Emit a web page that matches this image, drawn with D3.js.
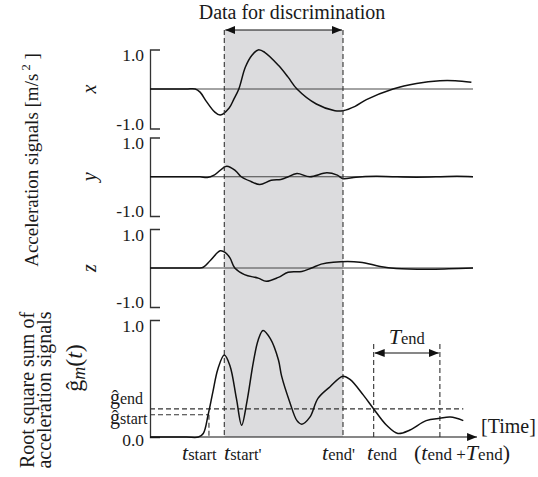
<!DOCTYPE html>
<html>
<head>
<meta charset="utf-8">
<script src="https://cdn.jsdelivr.net/npm/d3@7"></script>
<style>
  body { margin: 0; background: #fff; }
  text { font-family: "Liberation Serif", "Times New Roman", Times, serif; fill: #1a1a1a; }
</style>
</head>
<body>
<div id="chart"></div>
<script>
// time in seconds (arbitrary)
const accX = [[0,0],[0.45,0],[0.56,0],[0.62,-0.08],[0.70,-0.32],[0.80,-0.58],[0.87,-0.66],[0.98,-0.48],[1.04,-0.25],[1.10,0],[1.18,0.55],[1.26,0.85],[1.34,0.99],[1.42,0.93],[1.59,0.60],[1.71,0.30],[1.82,0],[2.06,-0.38],[2.29,-0.55],[2.39,-0.55],[2.54,-0.44],[2.68,-0.27],[3.01,0],[3.30,0.14],[3.59,0.21],[3.78,0.21],[3.98,0.17]];
const accY = [[0,0],[0.45,0],[0.62,0],[0.71,-0.02],[0.80,0.05],[0.95,0.27],[1.06,0.15],[1.13,0],[1.25,-0.12],[1.36,-0.20],[1.50,-0.09],[1.62,-0.07],[1.69,-0.02],[1.82,0.08],[1.98,0],[2.19,0.10],[2.32,0.04],[2.39,-0.05],[2.55,-0.01],[2.80,0.01],[3.00,0],[3.30,-0.01],[3.60,0],[3.80,0.01],[4.00,0]];
const accZ = [[0,0],[0.45,0],[0.60,0],[0.66,0.02],[0.75,0.20],[0.87,0.44],[0.93,0.40],[0.99,0.26],[1.05,0],[1.17,-0.17],[1.34,-0.26],[1.44,-0.34],[1.59,-0.24],[1.71,-0.11],[1.88,-0.09],[2.00,0],[2.12,0.10],[2.27,0.15],[2.60,0.15],[2.85,0.04],[3.05,-0.01],[3.43,-0.03],[3.70,-0.02],[4.00,0]];
const gm = [[0,0],[0.45,0],[0.60,0],[0.66,0.03],[0.72,0.19],[0.78,0.39],[0.84,0.58],[0.92,0.70],[0.99,0.61],[1.07,0.33],[1.135,0.10],[1.20,0.30],[1.28,0.64],[1.34,0.83],[1.40,0.91],[1.49,0.84],[1.59,0.66],[1.63,0.52],[1.73,0.30],[1.82,0.14],[1.88,0.11],[1.98,0.17],[2.08,0.33],[2.23,0.43],[2.39,0.52],[2.48,0.49],[2.64,0.36],[2.77,0.24],[2.93,0.10],[3.07,0.03],[3.22,0.06],[3.42,0.14],[3.59,0.16],[3.72,0.17],[3.88,0.14]];

const tStart = 0.73, tStartP = 0.92, tEndP = 2.39, tEnd = 2.77, tEndT = 3.59;
const gStart = 0.19, gEnd = 0.24;
const accTicks = ["1.0", "-1.0"];
const gTicks = ["1.0", "0.0"];

const W = 538, H = 477;
const svg = d3.select("#chart").append("svg").attr("width", W).attr("height", H);

const defs = svg.append("defs");
defs.append("marker").attr("id", "arr").attr("viewBox", "0 0 10 8")
    .attr("refX", 10).attr("refY", 4).attr("markerWidth", 10).attr("markerHeight", 8)
    .attr("markerUnits", "userSpaceOnUse").attr("orient", "auto-start-reverse")
    .append("path").attr("d", "M0,0 L10,4 L0,8 Z").attr("fill", "#111");

const time = d3.scaleLinear().domain([0, 4]).range([150, 473]);
const top0 = 30, base = 437;

// shaded discrimination window
svg.append("rect")
    .attr("x", time(tStartP)).attr("y", top0)
    .attr("width", time(tEndP) - time(tStartP)).attr("height", base - top0)
    .attr("fill", "#dcdcde");

const panels = [
    { name: "x", data: accX, y: d3.scaleLinear().domain([-1, 1]).range([128.5, 49.5]) },
    { name: "y", data: accY, y: d3.scaleLinear().domain([-1, 1]).range([216, 137.5]) },
    { name: "z", data: accZ, y: d3.scaleLinear().domain([-1, 1]).range([307, 229]) }
];
const gy = d3.scaleLinear().domain([0, 1]).range([base, 320]);

const line = (ys) => d3.line().x(d => time(d[0])).y(d => ys(d[1])).curve(d3.curveCatmullRom.alpha(0.5));

panels.forEach(p => {
    const ax = svg.append("g").attr("transform", `translate(${time(0)},0)`)
        .call(d3.axisRight(p.y).tickValues([]).tickSizeOuter(10));
    ax.select(".domain").attr("stroke", "#333").attr("stroke-width", 1.3);

    svg.append("line")
        .attr("x1", time(0)).attr("x2", time(4))
        .attr("y1", p.y(0)).attr("y2", p.y(0))
        .attr("stroke", "#333").attr("stroke-width", 0.9);

    svg.append("path").datum(p.data)
        .attr("d", line(p.y))
        .attr("fill", "none").attr("stroke", "#111").attr("stroke-width", 1.5);

    svg.append("text").attr("x", 144).attr("y", p.y(1) + 11.5)
        .attr("text-anchor", "end").attr("font-size", 17.5).text(accTicks[0]);
    svg.append("text").attr("x", 144).attr("y", p.y(-1) + 1)
        .attr("text-anchor", "end").attr("font-size", 17.5).text(accTicks[1]);

    svg.append("text")
        .attr("transform", `translate(96,${p.y(0)}) rotate(-90)`)
        .attr("text-anchor", "middle").attr("font-size", 20).attr("font-style", "italic")
        .text(p.name);
});

// bottom panel: root square sum
const gax = svg.append("g").attr("transform", `translate(${time(0)},0)`)
    .call(d3.axisRight(gy).tickValues([]).tickSizeOuter(10));
gax.select(".domain").attr("stroke", "#333").attr("stroke-width", 1.3);

svg.append("line")
    .attr("x1", time(0)).attr("x2", time(4.05))
    .attr("y1", base).attr("y2", base)
    .attr("stroke", "#111").attr("stroke-width", 1.2)
    .attr("marker-end", "url(#arr)");

svg.append("text").attr("x", 144).attr("y", gy(1) + 11.5)
    .attr("text-anchor", "end").attr("font-size", 17.5).text(gTicks[0]);
svg.append("text").attr("x", 144).attr("y", gy(0) + 9)
    .attr("text-anchor", "end").attr("font-size", 17.5).text(gTicks[1]);

// dashed guides
const dash = (x1, y1, x2, y2) => svg.append("line")
    .attr("x1", x1).attr("y1", y1).attr("x2", x2).attr("y2", y2)
    .attr("stroke", "#333").attr("stroke-width", 1.1).attr("stroke-dasharray", "5,3");

dash(time(tStartP), top0, time(tStartP), base);
dash(time(tEndP), top0, time(tEndP), base);
dash(time(tStart), gy(gStart), time(tStart), base);
dash(time(tEnd), 344, time(tEnd), base);
dash(time(tEndT), 344, time(tEndT), base);
dash(time(0), gy(gEnd), time(3.88), gy(gEnd));
dash(time(0), gy(gStart), time(tStart), gy(gStart));

svg.append("path").datum(gm)
    .attr("d", line(gy))
    .attr("fill", "none").attr("stroke", "#111").attr("stroke-width", 1.5);

// arrows
const arrow = (x1, x2, y) => svg.append("line")
    .attr("x1", x1 + 1).attr("x2", x2 - 1).attr("y1", y).attr("y2", y)
    .attr("stroke", "#111").attr("stroke-width", 1.2)
    .attr("marker-start", "url(#arr)").attr("marker-end", "url(#arr)");
arrow(time(tStartP), time(tEndP), top0);
arrow(time(tEnd), time(tEndT), 353);

svg.append("text").attr("x", 292).attr("y", 19).attr("text-anchor", "middle")
    .attr("font-size", 20).text("Data for discrimination");

const sub = (x, y, big, small, anchor) => {
    const t = svg.append("text").attr("x", x).attr("y", y).attr("text-anchor", anchor || "start");
    t.append("tspan").attr("font-style", "italic").attr("font-size", 22).text(big);
    t.append("tspan").attr("font-size", 16.5).text(small);
    return t;
};
sub((time(tEnd) + time(tEndT)) / 2, 344, "T", "end", "middle");
sub(182, 460, "t", "start");
sub(224, 460, "t", "start'");
sub(322, 460, "t", "end'");
sub(367, 460, "t", "end");
const te = svg.append("text").attr("x", 414).attr("y", 460);
te.append("tspan").attr("font-size", 22).text("(");
te.append("tspan").attr("font-style", "italic").attr("font-size", 22).text("t");
te.append("tspan").attr("font-size", 17).text("end +");
te.append("tspan").attr("font-style", "italic").attr("font-size", 22).text("T");
te.append("tspan").attr("font-size", 17).text("end");
te.append("tspan").attr("font-size", 22).text(")");

svg.append("text").attr("x", 481).attr("y", 433).attr("font-size", 20).text("[Time]");

const gl = (y, s) => {
    const t = svg.append("text").attr("x", 110).attr("y", y);
    t.append("tspan").attr("font-size", 20).text("ĝ");
    t.append("tspan").attr("font-size", 16).text(s);
};
gl(404, "end");
gl(424, "start");

// rotated axis titles
const acc = svg.append("text").attr("transform", "translate(38,160) rotate(-90)")
    .attr("text-anchor", "middle").attr("font-size", 19);
acc.append("tspan").text("Acceleration signals [m/s");
acc.append("tspan").attr("font-size", 12.5).attr("dy", -8).text(" 2");
acc.append("tspan").attr("dy", 8).text(" ]");

svg.append("text").attr("transform", "translate(34,390) rotate(-90)")
    .attr("text-anchor", "middle").attr("font-size", 20).text("Root square sum of");
svg.append("text").attr("transform", "translate(51,390) rotate(-90)")
    .attr("text-anchor", "middle").attr("font-size", 20).text("acceleration signals");

const gmLab = svg.append("text").attr("transform", "translate(82,368) rotate(-90)")
    .attr("text-anchor", "middle").attr("font-size", 24);
gmLab.append("tspan").text("ĝ");
gmLab.append("tspan").attr("font-style", "italic").attr("font-size", 18).attr("dy", 3).text("m");
gmLab.append("tspan").attr("dy", -3).text("(");
gmLab.append("tspan").attr("font-style", "italic").text("t");
gmLab.append("tspan").text(")");
</script>
</body>
</html>
